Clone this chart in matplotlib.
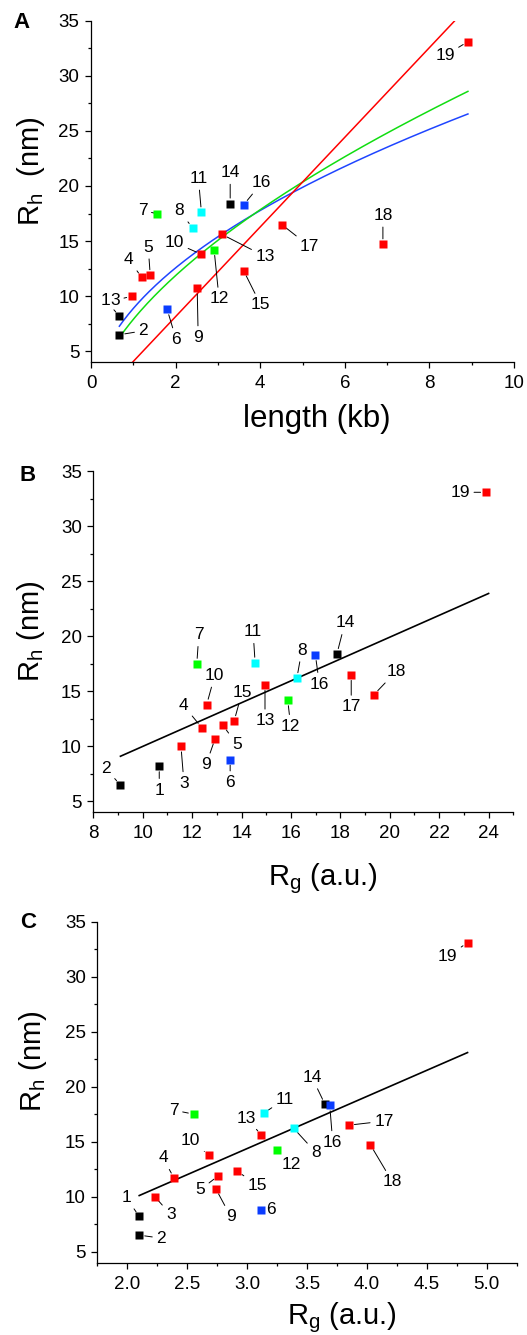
import numpy as np
import matplotlib
matplotlib.use("Agg")
import matplotlib.pyplot as plt
from matplotlib.ticker import MultipleLocator, FormatStrFormatter

plt.rcParams['font.family'] = ['Liberation Sans', 'DejaVu Sans']
plt.rcParams['mathtext.default'] = 'regular'

# --- data ---
ids = [str(i) for i in range(1, 20)]
length_kb = [0.67, 0.67, 0.97, 1.20, 1.40, 1.80, 1.55, 2.40, 2.51, 2.61,
             2.61, 2.91, 3.10, 3.29, 3.61, 3.61, 4.51, 6.90, 8.91]
rh_nm = [8.2, 6.5, 10.0, 11.7, 11.9, 8.8, 17.5, 16.2, 10.7, 13.8,
         17.6, 14.2, 15.6, 18.4, 12.3, 18.3, 16.5, 14.7, 33.1]
rg_b = [10.67, 9.09, 11.55, 12.39, 13.25, 13.54, 12.19, 16.24, 12.93, 12.59,
        14.55, 15.87, 14.95, 17.86, 13.70, 16.99, 18.44, 19.36, 23.9]
rg_c = [2.10, 2.10, 2.23, 2.39, 2.76, 3.12, 2.555, 3.39, 2.74, 2.68,
        3.14, 3.25, 3.12, 3.65, 2.92, 3.69, 3.85, 4.03, 4.84]
groups = ['k', 'k', 'r', 'r', 'r', 'b', 'g', 'c', 'r', 'r',
          'c', 'g', 'r', 'k', 'r', 'b', 'r', 'r', 'r']

# fits
linA_x = [0.98, 8.60]
linA_y = [4.0, 35.0]
powA_blue = (8.89, 0.50)     # Rh = a * L^b
powA_green = (7.9, 0.588)
powA_range = (0.67, 8.91)
fitB_x = [9.1, 24.0]
fitB_y = [9.1, 23.9]
fitC_x = [2.1, 4.84]
fitC_y = [10.1, 23.1]

colors = {'k': '#000000', 'r': '#ff0000', 'b': '#0a3cff', 'g': '#00ff00', 'c': '#00ffff'}

# label offsets in pixels (dx right, dy down)
offA = {1: (-14, -16), 2: (24, -4), 3: (-17, 4), 4: (-13, -18), 5: (-2, -28),
        6: (9, 30), 7: (-14, -3), 8: (-13, -17), 9: (1, 49), 10: (-27, -12),
        11: (-3, -34), 12: (5, 49), 13: (43, 22), 14: (0, -31), 15: (17, 34),
        16: (18, -22), 17: (28, 22), 18: (0, -29), 19: (-23, 14)}
offB = {1: (0, 24), 2: (-14, -16), 3: (3, 37), 4: (-18, -22), 5: (14, 19),
        6: (0, 23), 7: (2, -29), 8: (5, -28), 9: (-9, 26), 10: (8, -29),
        11: (-2, -31), 12: (3, 26), 13: (0, 36), 14: (8, -31), 15: (8, -29),
        16: (4, 29), 17: (0, 32), 18: (22, -23), 19: (-26, 0)}
offC = {1: (-13, -19), 2: (22, 3), 3: (16, 18), 4: (-11, -20), 5: (-18, 14),
        6: (9, 0), 7: (-20, -4), 8: (22, 24), 9: (15, 28), 10: (-18, -14),
        11: (21, -14), 12: (14, 14), 13: (-15, -17), 14: (-13, -27), 15: (20, 14),
        16: (3, 37), 17: (35, -4), 18: (22, 37), 19: (-20, 14)}


def style_axes(ax):
    for s in ['top', 'right']:
        ax.spines[s].set_visible(False)
    for s in ['left', 'bottom']:
        ax.spines[s].set_linewidth(0.9)
    ax.tick_params(which='major', direction='out', length=4.3, width=0.9,
                   labelsize=13.5, pad=4)
    ax.tick_params(which='minor', direction='out', length=2.3, width=0.9)
    ax.tick_params(axis='x', which='major', pad=5)
    ax.set_ylim(4, 35)
    ax.yaxis.set_major_locator(MultipleLocator(5))
    ax.yaxis.set_minor_locator(MultipleLocator(2.5))


def draw_points(ax, xs, offs):
    for i, lab in enumerate(ids):
        ax.plot(xs[i], rh_nm[i], 's', color=colors[groups[i]], ms=6.2,
                mec='none', zorder=5, clip_on=False)
        dx, dy = offs[i + 1]
        ax.annotate(lab, (xs[i], rh_nm[i]), xytext=(dx, -dy),
                    textcoords='offset pixels', ha='center', va='center',
                    fontsize=12.5,
                    arrowprops=dict(arrowstyle='-', lw=0.7, color='k',
                                    shrinkA=1, shrinkB=4))


fig = plt.figure(figsize=(5.27, 13.35), dpi=100)

# ---- A ----
axA = fig.add_axes([0.1727, 0.7286, 0.8027, 0.2559])
style_axes(axA)
axA.set_xlim(0, 10)
axA.xaxis.set_major_locator(MultipleLocator(2))
axA.xaxis.set_minor_locator(MultipleLocator(1))
L = np.linspace(powA_range[0], powA_range[1], 200)
axA.plot(L, powA_blue[0] * L ** powA_blue[1], color='#1f45ff', lw=1.1)
axA.plot(L, powA_green[0] * L ** powA_green[1], color='#11dd11', lw=1.1)
axA.plot(linA_x, linA_y, color='#ff0000', lw=1.1)
draw_points(axA, length_kb, offA)
axA.set_xlabel('length (kb)', fontsize=22.5)
axA.set_ylabel('R$_h$  (nm)', fontsize=21)
axA.xaxis.set_label_coords(0.534, -0.122)
axA.yaxis.set_label_coords(-0.105, 0.56)
fig.text(22 / 527, 1 - 22 / 1335, 'A', fontsize=16, weight='bold', ha='center', va='center')

# ---- B ----
axB = fig.add_axes([0.1770, 0.3915, 0.7970, 0.2554])
style_axes(axB)
axB.set_xlim(8, 25)
axB.xaxis.set_major_locator(MultipleLocator(2))
axB.xaxis.set_minor_locator(MultipleLocator(1))
axB.plot(fitB_x, fitB_y, color='k', lw=1.2)
draw_points(axB, rg_b, offB)
axB.set_xlabel('R$_g$ (a.u.)', fontsize=21)
axB.set_ylabel('R$_h$ (nm)', fontsize=21)
axB.xaxis.set_label_coords(0.547, -0.145)
axB.yaxis.set_label_coords(-0.11, 0.53)
fig.text(28 / 527, 1 - 476 / 1335, 'B', fontsize=16, weight='bold', ha='center', va='center')

# ---- C ----
axC = fig.add_axes([0.1846, 0.0542, 0.7958, 0.2554])
style_axes(axC)
axC.set_xlim(1.75, 5.25)
axC.xaxis.set_major_locator(MultipleLocator(0.5))
axC.xaxis.set_minor_locator(MultipleLocator(0.25))
axC.xaxis.set_major_formatter(FormatStrFormatter('%.1f'))
axC.plot(fitC_x, fitC_y, color='k', lw=1.2)
draw_points(axC, rg_c, offC)
axC.set_xlabel('R$_g$ (a.u.)', fontsize=21)
axC.set_ylabel('R$_h$ (nm)', fontsize=21)
axC.xaxis.set_label_coords(0.583, -0.112)
axC.yaxis.set_label_coords(-0.115, 0.59)
fig.text(28 / 527, 1 - 922 / 1335, 'C', fontsize=16, weight='bold', ha='center', va='center')

fig.savefig('out.png', dpi=100)
